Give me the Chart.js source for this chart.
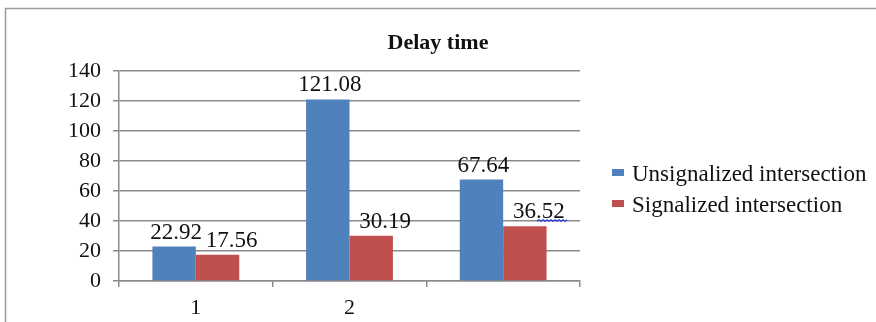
<!DOCTYPE html>
<html>
<head>
<meta charset="utf-8">
<script src="https://cdn.jsdelivr.net/npm/chart.js@4.4.1/dist/chart.umd.min.js"></script>
<style>
  html, body { margin: 0; padding: 0; background: #fff; }
  #wrap { width: 876px; height: 322px; position: relative; }
</style>
</head>
<body>
<div id="wrap"><canvas id="c" width="876" height="322"></canvas></div>
<script>
// Delay time per intersection case
const categories = ['1', '2', ''];
const unsignalized = [22.92, 121.08, 67.64];
const signalized = [17.56, 30.19, 36.52];
const seriesNames = ['Unsignalized intersection', 'Signalized intersection'];
const seriesColors = ['#4F81BD', '#C0504D'];
const yTicks = [0, 20, 40, 60, 80, 100, 120, 140];
const chartTitle = 'Delay time';

const SERIF = '"Liberation Serif", "Times New Roman", serif';
const GRID = '#8a8a8a';
const TEXT = '#111';

// horizontal nudge of each series' value labels
const labelShift = [2, 14];
// proofing squiggle under the tail of one value label
const squiggle = { dataset: 1, index: 2, chars: 3 };

// outer frame, title and legend
const framePlugin = {
  id: 'frame',
  beforeDraw(chart) {
    const ctx = chart.ctx;
    ctx.save();
    ctx.fillStyle = '#fff';
    ctx.fillRect(0, 0, chart.width, chart.height);
    ctx.strokeStyle = '#9a9a9a';
    ctx.lineWidth = 1.5;
    ctx.strokeRect(5.5, 8.5, chart.width + 20, chart.height + 20);
    ctx.restore();
  },
  afterDraw(chart) {
    const ctx = chart.ctx;
    ctx.save();
    ctx.fillStyle = TEXT;
    ctx.font = 'bold 22px ' + SERIF;
    ctx.textAlign = 'center';
    ctx.textBaseline = 'alphabetic';
    ctx.fillText(chartTitle, chart.width / 2, 49);

    // legend
    ctx.font = '23px ' + SERIF;
    ctx.textAlign = 'left';
    ctx.textBaseline = 'middle';
    chart.data.datasets.forEach((ds, i) => {
      const y = 172.5 + i * 31;
      ctx.fillStyle = ds.backgroundColor;
      ctx.fillRect(612, y - 3.5, 12, 7);
      ctx.fillStyle = TEXT;
      ctx.fillText(ds.label, 632, y + 2);
    });
    ctx.restore();
  }
};

// value labels above each bar
const valueLabels = {
  id: 'valueLabels',
  afterDatasetsDraw(chart) {
    const ctx = chart.ctx;
    ctx.save();
    ctx.font = '23px ' + SERIF;
    ctx.textAlign = 'center';
    ctx.textBaseline = 'alphabetic';
    chart.data.datasets.forEach((ds, di) => {
      const meta = chart.getDatasetMeta(di);
      meta.data.forEach((bar, i) => {
        const v = ds.data[i];
        if (v == null) return;
        const txt = v.toFixed(2);
        const x = bar.x + labelShift[di];
        const y = bar.y - 8;
        ctx.fillStyle = TEXT;
        ctx.fillText(txt, x, y);
        if (di === squiggle.dataset && i === squiggle.index) {
          const w = ctx.measureText(txt).width;
          const tail = ctx.measureText(txt.slice(-squiggle.chars)).width;
          const x1 = x + w / 2 + 1;
          let sx = x1 - tail;
          ctx.strokeStyle = '#2a3bd8';
          ctx.lineWidth = 1.2;
          ctx.beginPath();
          ctx.moveTo(sx, y + 3);
          let up = true;
          while (sx < x1) {
            sx += 2;
            ctx.lineTo(sx, up ? y + 1.5 : y + 3);
            up = !up;
          }
          ctx.stroke();
        }
      });
    });
    ctx.restore();
  }
};

new Chart(document.getElementById('c'), {
  type: 'bar',
  data: {
    labels: categories,
    datasets: [
      { label: seriesNames[0], data: unsignalized, backgroundColor: seriesColors[0] },
      { label: seriesNames[1], data: signalized, backgroundColor: seriesColors[1] }
    ]
  },
  options: {
    responsive: false,
    animation: false,
    devicePixelRatio: 1,
    layout: { padding: { left: 0, top: 71, right: 296, bottom: 0 } },
    datasets: { bar: { categoryPercentage: 0.565, barPercentage: 1.0 } },
    plugins: {
      legend: { display: false },
      title: { display: false },
      tooltip: { enabled: false }
    },
    scales: {
      x: {
        offset: true,
        afterFit(scale) { scale.height = 41; },
        grid: {
          offset: true,
          drawOnChartArea: false,
          drawTicks: true,
          tickLength: 6,
          color: GRID,
          lineWidth: 1.5
        },
        border: { color: GRID, width: 1.5 },
        ticks: { font: { family: SERIF, size: 22 }, color: TEXT, padding: 8 }
      },
      y: {
        min: 0,
        max: 140,
        afterFit(scale) { scale.width = 119; },
        afterBuildTicks(scale) { scale.ticks = yTicks.map(v => ({ value: v })); },
        grid: { color: GRID, lineWidth: 1.5, drawTicks: true, tickLength: 6 },
        border: { color: GRID, width: 1.5 },
        ticks: { font: { family: SERIF, size: 22 }, color: TEXT, padding: 12 }
      }
    }
  },
  plugins: [framePlugin, valueLabels]
});
</script>
</body>
</html>
